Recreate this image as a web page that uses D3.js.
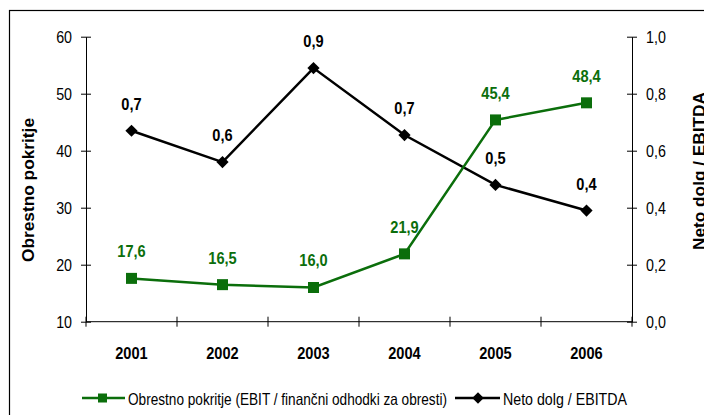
<!DOCTYPE html>
<html>
<head>
<meta charset="utf-8">
<script src="https://cdn.jsdelivr.net/npm/d3@7"></script>
<style>
  body { margin: 0; background: #fff; }
  svg { display: block; font-family: "Liberation Sans", Arial, sans-serif; }
</style>
</head>
<body>
<div id="chart"></div>
<script>
// data
var years = ["2001", "2002", "2003", "2004", "2005", "2006"];
var coverage = [17.6, 16.5, 16.0, 21.9, 45.4, 48.4];
var debtRatio = [0.67, 0.56, 0.89, 0.655, 0.48, 0.39];
var debtLabels = ["0,7", "0,6", "0,9", "0,7", "0,5", "0,4"];
var leftTicks = [10, 20, 30, 40, 50, 60];
var rightTicks = [0, 0.2, 0.4, 0.6, 0.8, 1.0];

var width = 704, height = 415;
var green = "#0b6e0b";
var fmt = function(v) { return v.toFixed(1).replace(".", ","); };

// squeeze text horizontally, no narrow font available offline
function narrow(sel, k) {
  sel.each(function() {
    var t = d3.select(this);
    var tx = +t.attr("x") || 0, ty = +t.attr("y") || 0;
    t.attr("transform", "translate(" + tx + "," + ty + ") scale(" + k + ",1) translate(" + (-tx) + "," + (-ty) + ")");
  });
}

var svg = d3.select("#chart").append("svg")
  .attr("width", width)
  .attr("height", height);

// outer frame
svg.append("rect")
  .attr("x", 9.5).attr("y", 10.5)
  .attr("width", 720).attr("height", 420)
  .attr("fill", "none").attr("stroke", "#000").attr("stroke-width", 1.2);

var x = d3.scaleBand().domain(years).range([86, 632]).padding(0);
var yL = d3.scaleLinear().domain([10, 60]).range([321.7, 36.7]);
var yR = d3.scaleLinear().domain([0, 1]).range([321.7, 36.7]);

// left axis
var gl = svg.append("g").attr("transform", "translate(86,0)")
  .call(d3.axisLeft(yL).tickValues(leftTicks).tickSize(5).tickSizeOuter(0).tickPadding(9));
gl.selectAll(".tick line").clone().attr("x2", 5);
// right axis
var gr = svg.append("g").attr("transform", "translate(632,0)")
  .call(d3.axisRight(yR).tickValues(rightTicks).tickFormat(fmt).tickSize(5).tickSizeOuter(0).tickPadding(9));
gr.selectAll(".tick line").clone().attr("x2", -5);
// x axis
var gx = svg.append("g").attr("transform", "translate(0,321.7)");
gx.append("line").attr("x1", 86).attr("x2", 632).attr("stroke", "#000");
gx.selectAll(".sep").data(d3.range(years.length + 1)).enter().append("line")
  .attr("x1", function(i) { return 86 + i * x.bandwidth(); })
  .attr("x2", function(i) { return 86 + i * x.bandwidth(); })
  .attr("y1", -5).attr("y2", 5).attr("stroke", "#000");
gx.selectAll(".yr").data(years).enter().append("text")
  .attr("x", function(d) { return x(d) + x.bandwidth() / 2; })
  .attr("y", 37)
  .attr("text-anchor", "middle")
  .attr("font-size", 17).attr("font-weight", "bold")
  .text(function(d) { return d; })
  .call(narrow, 0.86);

svg.selectAll(".domain").attr("stroke", "#000");
svg.selectAll(".tick line").attr("stroke", "#000");
svg.selectAll(".tick text").attr("font-size", 17).attr("fill", "#000")
  .attr("font-family", "\"Liberation Sans\", Arial, sans-serif");
gl.selectAll(".tick text").call(narrow, 0.84);
gr.selectAll(".tick text").call(narrow, 0.84);

// axis titles
svg.append("text")
  .attr("transform", "translate(34,190) rotate(-90)")
  .attr("text-anchor", "middle")
  .attr("font-size", 16.5).attr("font-weight", "bold")
  .attr("textLength", 144).attr("lengthAdjust", "spacingAndGlyphs")
  .text("Obrestno pokritje");
svg.append("text")
  .attr("transform", "translate(705,171) rotate(-90)")
  .attr("text-anchor", "middle")
  .attr("font-size", 16.5).attr("font-weight", "bold")
  .attr("textLength", 158).attr("lengthAdjust", "spacingAndGlyphs")
  .text("Neto dolg / EBITDA");

var cx = function(i) { return x(years[i]) + x.bandwidth() / 2; };

// black series
var lineB = d3.line().x(function(d, i) { return cx(i); }).y(function(d) { return yR(d); });
svg.append("path").datum(debtRatio)
  .attr("d", lineB).attr("fill", "none").attr("stroke", "#000").attr("stroke-width", 2.5);
svg.selectAll(".dia").data(debtRatio).enter().append("path")
  .attr("d", d3.symbol().type(d3.symbolDiamond2).size(95))
  .attr("transform", function(d, i) { return "translate(" + cx(i) + "," + yR(d) + ")"; })
  .attr("fill", "#000");
svg.selectAll(".lblB").data(debtRatio).enter().append("text")
  .attr("x", function(d, i) { return cx(i); })
  .attr("y", function(d) { return yR(d) - 21; })
  .attr("text-anchor", "middle")
  .attr("font-size", 17).attr("font-weight", "bold")
  .text(function(d, i) { return debtLabels[i]; })
  .call(narrow, 0.86);

// green series
var lineG = d3.line().x(function(d, i) { return cx(i); }).y(function(d) { return yL(d); });
svg.append("path").datum(coverage)
  .attr("d", lineG).attr("fill", "none").attr("stroke", green).attr("stroke-width", 2.5);
svg.selectAll(".sq").data(coverage).enter().append("rect")
  .attr("x", function(d, i) { return cx(i) - 5.5; })
  .attr("y", function(d) { return yL(d) - 5.5; })
  .attr("width", 11).attr("height", 11)
  .attr("fill", green);
svg.selectAll(".lblG").data(coverage).enter().append("text")
  .attr("x", function(d, i) { return cx(i); })
  .attr("y", function(d) { return yL(d) - 21; })
  .attr("text-anchor", "middle")
  .attr("font-size", 17).attr("font-weight", "bold").attr("fill", green)
  .text(function(d) { return fmt(d); })
  .call(narrow, 0.86);

// legend
var lg = svg.append("g").attr("transform", "translate(0,398)");
lg.append("line").attr("x1", 82).attr("x2", 125).attr("stroke", green).attr("stroke-width", 2.5);
lg.append("rect").attr("x", 98).attr("y", -4.5).attr("width", 9).attr("height", 9).attr("fill", green);
lg.append("text").attr("x", 128).attr("y", 7).attr("font-size", 16.5)
  .attr("textLength", 319).attr("lengthAdjust", "spacingAndGlyphs")
  .text("Obrestno pokritje (EBIT / finančni odhodki za obresti)");
lg.append("line").attr("x1", 455).attr("x2", 500).attr("stroke", "#000").attr("stroke-width", 2.5);
lg.append("path").attr("d", d3.symbol().type(d3.symbolDiamond2).size(85))
  .attr("transform", "translate(478,0)").attr("fill", "#000");
lg.append("text").attr("x", 503).attr("y", 7).attr("font-size", 16.5)
  .attr("textLength", 124).attr("lengthAdjust", "spacingAndGlyphs")
  .text("Neto dolg / EBITDA");
</script>
</body>
</html>
